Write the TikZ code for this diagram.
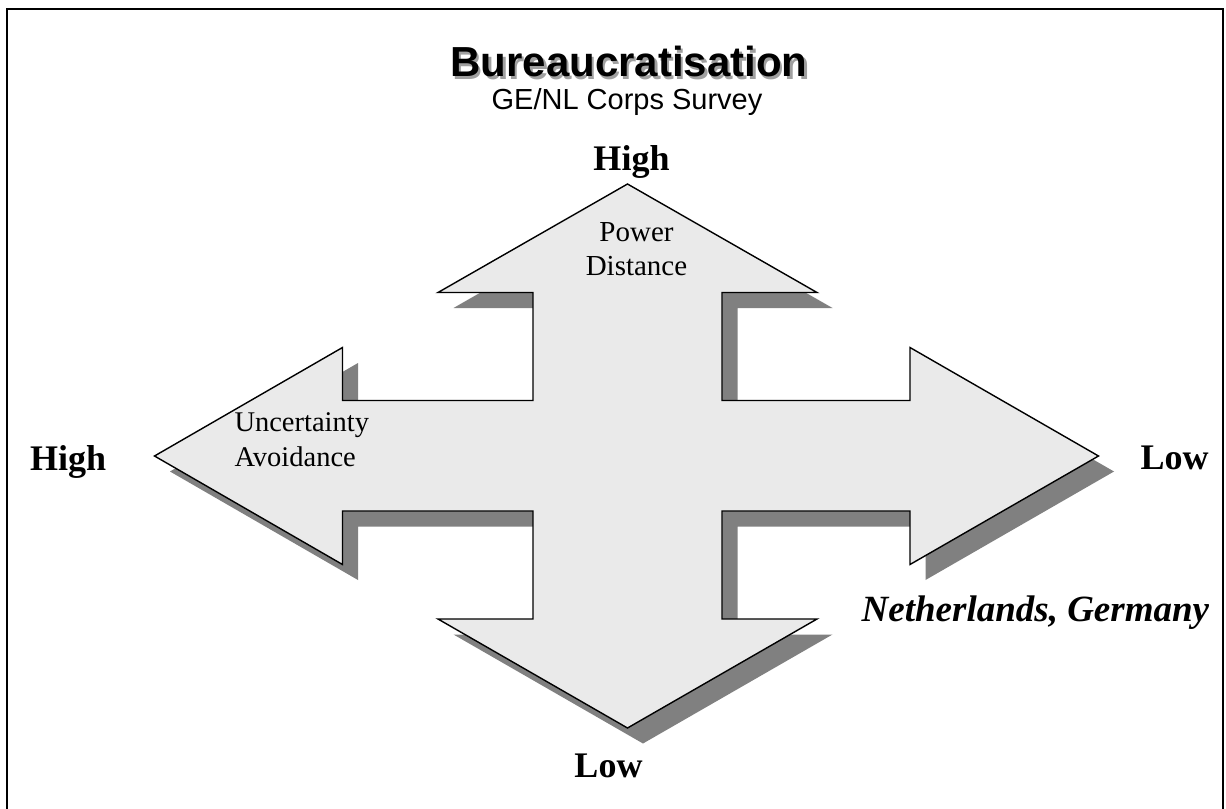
\documentclass[tikz,border=0pt]{standalone}
\usepackage{fontspec}
\setmainfont{Liberation Serif}
\newfontfamily\arialf{Liberation Sans}
\definecolor{crossfill}{RGB}{234,234,234}
\definecolor{shadowc}{RGB}{128,128,128}
\definecolor{titleshadow}{RGB}{160,160,160}
\begin{document}
\begin{tikzpicture}[x=1bp,y=-1bp,
  lbl/.style={inner sep=0pt,anchor=base,font=\fontsize{36bp}{40bp}\selectfont\bfseries},
  dimtext/.style={inner sep=0pt,anchor=base,align=center,font=\fontsize{29bp}{34bp}\selectfont},
  crossline/.style={draw=black,line width=1.4bp,line join=miter,fill=crossfill}]
\useasboundingbox (0,0) rectangle (1226,809);
\fill[white] (0,0) rectangle (1226,809);
% frame
\draw[line width=2.2bp] (7,812) -- (7,9) -- (1223,9) -- (1223,812);
% cross shape path
\def\crosspath{(627.5,184) -- (817,292.5) -- (722,292.5) -- (722,400.5) -- (910,400.5) -- (910,347.5) -- (1098.5,456) -- (910,564.5) -- (910,511) -- (722,511) -- (722,619) -- (817,619) -- (627.5,728) -- (438,619) -- (533,619) -- (533,511) -- (342.5,511) -- (342.5,564.5) -- (154.5,456) -- (342.5,347.5) -- (342.5,400.5) -- (533,400.5) -- (533,292.5) -- (438,292.5) -- cycle}
\fill[shadowc,shift={(15.5bp,-15.5bp)}] \crosspath;
\path[crossline] \crosspath;
% title
\node[inner sep=0pt,anchor=base,text=titleshadow,font=\arialf\fontsize{42bp}{48bp}\selectfont\bfseries] at (631.5,79.5) {Bureaucratisation};
\node (title) [inner sep=0pt,anchor=base,font=\arialf\fontsize{42bp}{48bp}\selectfont\bfseries] at (629,77) {Bureaucratisation};
\node (subtitle) [inner sep=0pt,anchor=base,font=\arialf\fontsize{29bp}{34bp}\selectfont] at (627,110) {GE/NL Corps Survey};
% end labels
\node (hightop) [lbl] at (631.5,170) {High};
\node (highleft) [lbl,anchor=base west] at (30,470) {High};
\node (lowright) [lbl,anchor=base west] at (1140.5,469.5) {Low};
\node (lowbottom) [lbl] at (608.5,777.5) {Low};
\node (countries) [lbl,anchor=base west,font=\fontsize{37bp}{40bp}\selectfont\bfseries\itshape] at (861.5,621) {Netherlands, Germany};
% dimension names (base anchor = last line)
\node (pd) [dimtext] at (636.5,275.7) {Power\\Distance};
\node (ua) [dimtext,align=left,anchor=base west,font=\fontsize{28.5bp}{35bp}\selectfont] at (234.3,466.7) {Uncertainty\\Avoidance};
\end{tikzpicture}
\end{document}
